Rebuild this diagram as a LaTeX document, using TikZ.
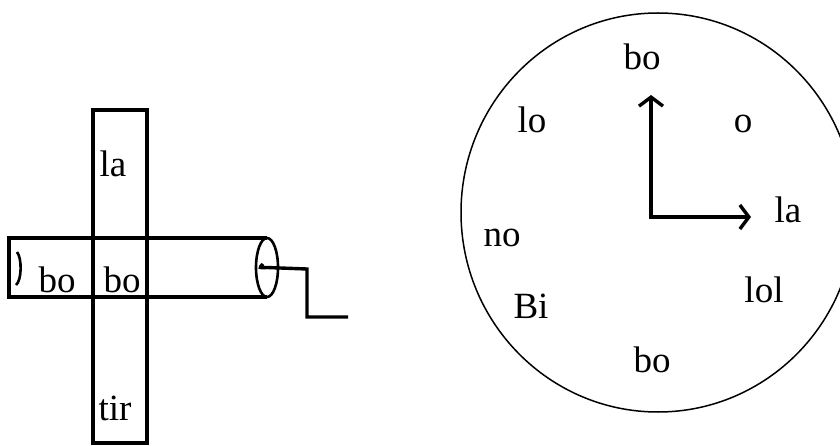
\documentclass[tikz,border=0pt]{standalone}
\usepackage{fontspec}
\setmainfont{Liberation Serif}
\usetikzlibrary{arrows.meta,shapes.geometric}
\begin{document}
\begin{tikzpicture}[x=1pt, y=-1pt,
	word/.style={font=\fontsize{37}{40}\selectfont, inner sep=0pt, anchor=base},
	bar/.style={line width=3.4pt},
	barb/.tip={Straight Barb[length=9pt, width=24pt, line width=3.4pt]},
	hand/.style={line width=3.6pt, barb-barb}]
	\useasboundingbox (0,0) rectangle (840,446);
	\clip (0,0) rectangle (840,446);
	% the cross
	\node[draw, bar, minimum width=54pt, minimum height=333pt, inner sep=0pt] (vbar) at (120,276.5) {};
	\coordinate (htl) at (9,238);
	\coordinate (hbl) at (9,297);
	\coordinate (tube) at (267,267.5);
	\draw[bar] (tube) ++(0,-29.5) -- (htl) -- (hbl) -- ++(258,0);
	\draw[line width=2.6pt] (tube) ellipse (11pt and 29.5pt);
	\draw[line width=2.6pt] (17,252) .. controls (22,258) and (22,280) .. (16,285);
	% the wire
	\coordinate (bend1) at (307,269);
	\coordinate (bend2) at (307,317);
	\coordinate (plug) at (348,317);
	\draw[bar] (263,264) .. controls (259,268) .. (tube) -- (bend1) -- (bend2) -- (plug);
	\node[word] (la1) at (113,177) {la};
	\node[word] (bo1) at (57,292) {bo};
	\node[word] (bo2) at (122,292) {bo};
	\node[word] (tir) at (115,420) {tir};
	% the dial
	\node[draw, ellipse, line width=1.5pt, minimum width=394pt, minimum height=399pt, inner sep=0pt] (dial) at (658,212.5) {};
	\coordinate (hub) at (651,217);
	\coordinate (up) at (651,95);
	\coordinate (right) at (751,217);
	\draw[hand] (up) -- (hub) -- (right);
	\node[word] (top) at (642,70) {bo};
	\node[word] (lo) at (532,133) {lo};
	\node[word] (o) at (743,133) {o};
	\node[word] (la2) at (788,223) {la};
	\node[word] (no) at (502,247) {no};
	\node[word] (lol) at (764,302) {lol};
	\node[word] (Bi) at (531,318) {Bi};
	\node[word] (bottom) at (652,372) {bo};
\end{tikzpicture}
\end{document}
